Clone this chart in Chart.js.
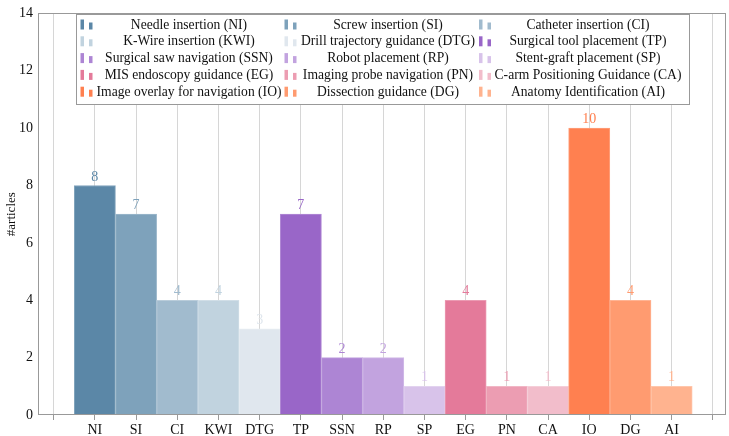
<!DOCTYPE html>
<html><head><meta charset="utf-8">
<script src="https://cdn.jsdelivr.net/npm/chart.js@4"></script>
<style>html,body{margin:0;padding:0;background:#fff}</style>
</head><body>
<canvas id="c" width="729" height="436"></canvas>
<script>
const categories = ['NI','SI','CI','KWI','DTG','TP','SSN','RP','SP','EG','PN','CA','IO','DG','AI'];
const legendNames = [
  'Needle insertion (NI)','Screw insertion (SI)','Catheter insertion (CI)',
  'K-Wire insertion (KWI)','Drill trajectory guidance (DTG)','Surgical tool placement (TP)',
  'Surgical saw navigation (SSN)','Robot placement (RP)','Stent-graft placement (SP)',
  'MIS endoscopy guidance (EG)','Imaging probe navigation (PN)','C-arm Positioning Guidance (CA)',
  'Image overlay for navigation (IO)','Dissection guidance (DG)','Anatomy Identification (AI)'
];
const values = [8,7,4,4,3,7,2,2,1,4,1,1,10,4,1];
const colors = ['#5b87a7','#7ea2bb','#a1bbce','#c1d3df','#e0e7ee','#9966c8','#ad85d4','#c2a3df','#d8c3ea','#e47a9a','#ec9db2','#f2bdcb','#ff8050','#ff9b70','#ffb38f'];
const yTickValues = [0,2,4,6,8,10,12,14];

const SERIF = "'Liberation Serif','Times New Roman',serif";

function lighten(hex, t){
  const n = parseInt(hex.slice(1),16);
  const r=(n>>16)&255,g=(n>>8)&255,b=n&255;
  const m=c=>Math.round(c+(255-c)*t);
  return `rgb(${m(r)},${m(g)},${m(b)})`;
}

const framePlugin = {
  id:'frame',
  afterDraw(chart){
    const {ctx, chartArea:a} = chart;
    ctx.save();
    ctx.strokeStyle='#999';
    ctx.lineWidth=1;
    ctx.strokeRect(Math.round(a.left)+0.5, Math.round(a.top)+0.5, Math.round(a.right-a.left)-1, Math.round(a.bottom-a.top)-1);
    ctx.restore();
  }
};

const valueLabels = {
  id:'valueLabels',
  afterDatasetsDraw(chart){
    const {ctx} = chart;
    const meta = chart.getDatasetMeta(0);
    ctx.save();
    ctx.font = `14px ${SERIF}`;
    ctx.textAlign='center';
    ctx.textBaseline='alphabetic';
    meta.data.forEach((bar,i)=>{
      ctx.fillStyle = colors[i];
      ctx.fillText(String(values[i]), bar.x, bar.y-5);
    });
    ctx.restore();
  }
};

const legendBox = {
  id:'legendBox',
  afterDraw(chart){
    const {ctx} = chart;
    const box = {x:76, y:14, w:613, h:90};
    ctx.save();
    ctx.fillStyle='#fff';
    ctx.fillRect(box.x, box.y, box.w, box.h);
    ctx.strokeStyle='#999';
    ctx.lineWidth=1;
    ctx.strokeRect(box.x+0.5, box.y+0.5, box.w, box.h);
    const iconX = [80.5, 284.5, 479];
    const textC = [189, 388, 588];
    const rowY0 = 24.5, rowH = 16.8;
    ctx.font = `13.6px ${SERIF}`;
    ctx.textAlign='center';
    ctx.textBaseline='middle';
    legendNames.forEach((name,i)=>{
      const col = i%3, row = Math.floor(i/3);
      const cy = rowY0 + row*rowH;
      ctx.fillStyle = colors[i];
      ctx.fillRect(iconX[col], cy-5, 3.5, 10);
      ctx.fillRect(iconX[col]+8.5, cy-2, 3.5, 7);
      ctx.fillStyle='#111';
      ctx.fillText(name, textC[col], cy+0.5);
    });
    ctx.restore();
  }
};

new Chart(document.getElementById('c'), {
  type:'bar',
  data:{
    datasets:[{
      data: values.map((v,i)=>({x:i, y:v})),
      backgroundColor: colors,
      borderColor: colors.map(c=>lighten(c,0.25)),
      borderWidth: 1,
      barPercentage: 1,
      categoryPercentage: 1
    }]
  },
  options:{
    responsive:false,
    animation:false,
    layout:{padding:{top:6,right:3,left:0,bottom:0}},
    plugins:{legend:{display:false}, tooltip:{enabled:false}},
    scales:{
      x:{
        type:'linear',
        offset:false,
        min:-1.38, max:15.32,
        afterFit(s){ s.height = 21; },
        ticks:{
          stepSize:1, includeBounds:false, autoSkip:false, maxRotation:0, minRotation:0,
          callback:v=> (categories[v] !== undefined ? categories[v] : ''),
          font:{family:SERIF, size:14}, color:'#111', padding:2
        },
        grid:{offset:false, color:'#d6d6d6', tickColor:'#999', tickLength:5, drawTicks:true, lineWidth:1},
        border:{display:false}
      },
      y:{
        min:0, max:14,
        afterFit(s){ s.width = 38; },
        afterBuildTicks(s){ s.ticks = yTickValues.map(v=>({value:v})); },
        ticks:{font:{family:SERIF, size:14}, color:'#111', padding:5},
        grid:{display:false, drawTicks:false},
        border:{display:false},
        title:{display:true, text:'#articles', font:{family:SERIF, size:13}, color:'#111', padding:{top:4,bottom:4}}
      }
    }
  },
  plugins:[framePlugin, valueLabels, legendBox]
});
</script>
</body></html>
